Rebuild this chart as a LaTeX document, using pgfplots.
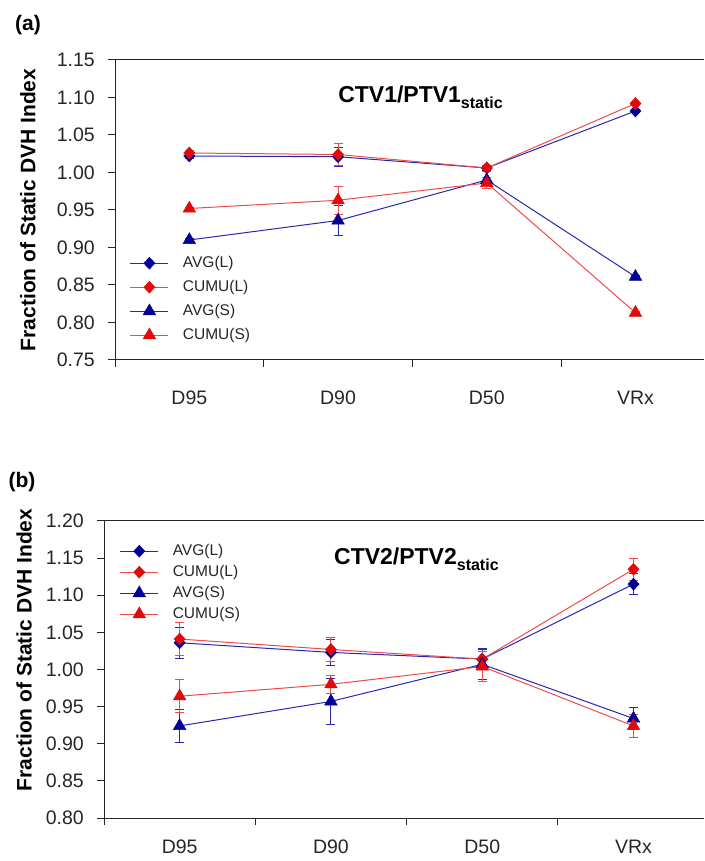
\documentclass[border=0pt]{standalone}
\usepackage{pgfplots}
\pgfplotsset{compat=1.18}
\usepackage{pgfplotstable}
\usepackage{fontspec}
\setmainfont{Liberation Sans}

\definecolor{mblue}{RGB}{0,0,150}
\definecolor{lblue}{RGB}{40,40,175}
\definecolor{mred}{RGB}{225,10,10}
\definecolor{lred}{RGB}{238,75,75}

% panel (a): x y err
\pgfplotstableread{
x y e
0 1.022 0.003
1 1.021 0.013
2 1.006 0.003
3 1.082 0.002
}\aavgL
\pgfplotstableread{
x y e
0 1.026 0.004
1 1.024 0.015
2 1.006 0.004
3 1.092 0.002
}\acumL
\pgfplotstableread{
x y e
0 0.910 0.002
1 0.936 0.020
2 0.990 0.004
3 0.861 0.002
}\aavgS
\pgfplotstableread{
x y e
0 0.952 0.002
1 0.963 0.019
2 0.986 0.007
3 0.813 0.002
}\acumS
% panel (b)
\pgfplotstableread{
x y e
0 1.036 0.021
1 1.023 0.018
2 1.014 0.013
3 1.115 0.014
}\bavgL
\pgfplotstableread{
x y e
0 1.041 0.022
1 1.027 0.016
2 1.014 0.010
3 1.135 0.015
}\bcumL
\pgfplotstableread{
x y e
0 0.924 0.022
1 0.957 0.031
2 1.007 0.021
3 0.934 0.015
}\bavgS
\pgfplotstableread{
x y e
0 0.964 0.022
1 0.980 0.012
2 1.004 0.020
3 0.924 0.016
}\bcumS

\pgfplotsset{
  ser/.style n args={5}{color=#2, line width=1pt, mark=#1, /tikz/mark size=#4,
    mark options={fill=#3, draw=#3, line width=0.4pt, xscale=#5},
    error bars/.cd, y dir=both, y explicit,
    error bar style={#2, line width=0.9pt},
    error mark options={#2, mark size=4.5pt, line width=0.9pt, rotate=90}},
  avgL/.style={ser={diamond*}{lblue}{mblue}{6pt}{1.25}},
  cumL/.style={ser={diamond*}{lred}{mred}{6pt}{1.25}},
  avgS/.style={ser={triangle*}{lblue}{mblue}{7.3pt}{1}},
  cumS/.style={ser={triangle*}{lred}{mred}{7.3pt}{1}},
  panel/.style={
    scale only axis,
    axis x line*=bottom, axis y line*=left,
    axis line style={black!85, line width=1pt},
    xmin=-0.5,
    xtick={0,1,2,3}, xticklabels={D95,D90,D50,VRx},
    minor xtick={-0.5,0.5,1.5,2.5},
    major x tick style={draw=none},
    tick align=outside, major tick length=7pt, minor tick length=7pt,
    tick style={black!85, line width=1pt},
    ytick distance=0.05,
    /pgf/number format/assume math mode=true,
    /pgf/number format/fixed, /pgf/number format/fixed zerofill,
    /pgf/number format/precision=2,
    tick label style={font=\fontsize{19.5}{20}\selectfont, text=black!85},
    yticklabel style={inner sep=0pt, anchor=east, xshift=-13pt},
    xticklabel style={inner sep=0pt, anchor=center},
    ylabel={Fraction of Static DVH Index},
    label style={font=\fontsize{21}{22}\bfseries\selectfont},
    legend style={draw=none, fill=none, inner sep=0pt,
      font=\fontsize{15.5}{16}\selectfont, text=black!85,
      nodes={inner sep=1pt, text height=11pt, text depth=3pt},
      /tikz/every odd column/.append style={column sep=13pt}},
    legend cell align=left,
    legend image code/.code={
      \draw (0pt,0pt) -- (38pt,0pt);
      \draw plot coordinates {(19pt,0pt)};},
    after end axis/.code={\draw[black!85, line width=1pt] (rel axis cs:0,1) -- (rel axis cs:1,1);},
  },
}

\begin{document}
\begin{tikzpicture}

% panel (a)
\begin{axis}[panel,
  at={(115pt,501pt)}, anchor=south west,
  width=589pt, height=300pt,
  xmax=3.461, ymin=0.75, ymax=1.15,
  xticklabel style={yshift=-31pt},
  ylabel style={at={(axis description cs:-0.148,0.5)}, anchor=center},
  legend style={at={(rel axis cs:0.025,0.35)}, anchor=north west,
    /tikz/row sep=8pt},
]
\addplot[avgL] table[x=x, y=y, y error=e] {\aavgL};
\addlegendentry{AVG(L)}
\addplot[cumL] table[x=x, y=y, y error=e] {\acumL};
\addlegendentry{CUMU(L)}
\addplot[avgS] table[x=x, y=y, y error=e] {\aavgS};
\addlegendentry{AVG(S)}
\addplot[cumS] table[x=x, y=y, y error=e] {\acumS};
\addlegendentry{CUMU(S)}
\node[anchor=base west, inner sep=0pt, font=\fontsize{23}{24}\bfseries\selectfont]
  at (axis cs:1.0,1.093) {CTV1/PTV1\raisebox{-6pt}{\fontsize{16}{16}\bfseries\selectfont static}};
\end{axis}

% panel (b)
\begin{axis}[panel,
  at={(104pt,43pt)}, anchor=south west,
  width=600pt, height=297pt,
  xmax=3.466, ymin=0.80, ymax=1.20,
  xticklabel style={yshift=-22pt},
  ylabel style={at={(axis description cs:-0.133,0.566)}, anchor=center},
  legend style={at={(rel axis cs:0.026,0.926)}, anchor=north west,
    /tikz/row sep=5pt},
]
\addplot[avgL] table[x=x, y=y, y error=e] {\bavgL};
\addlegendentry{AVG(L)}
\addplot[cumL] table[x=x, y=y, y error=e] {\bcumL};
\addlegendentry{CUMU(L)}
\addplot[avgS] table[x=x, y=y, y error=e] {\bavgS};
\addlegendentry{AVG(S)}
\addplot[cumS] table[x=x, y=y, y error=e] {\bcumS};
\addlegendentry{CUMU(S)}
\node[anchor=base west, inner sep=0pt, font=\fontsize{23}{24}\bfseries\selectfont]
  at (axis cs:1.02,1.141) {CTV2/PTV2\raisebox{-6pt}{\fontsize{16}{16}\bfseries\selectfont static}};
\end{axis}

\node[font=\fontsize{21}{22}\bfseries\selectfont] at (28pt,836pt) {(a)};
\node[font=\fontsize{21}{22}\bfseries\selectfont] at (22pt,379pt) {(b)};

\pgfresetboundingbox
\useasboundingbox (0,0) rectangle (704pt,861pt);
\end{tikzpicture}
\end{document}
